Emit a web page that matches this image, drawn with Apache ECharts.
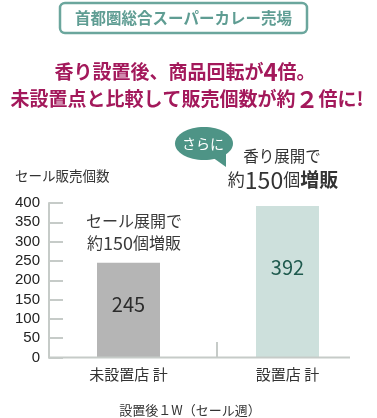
<!DOCTYPE html>
<html><head><meta charset="utf-8">
<script src="https://cdn.jsdelivr.net/npm/echarts@6/dist/echarts.min.js"></script>
<style>html,body{margin:0;padding:0;background:#fff}#c{width:377px;height:418px}</style>
</head><body><div id="c"></div>
<script>
const categories = ['未設置店 計', '設置店 計'];
const values = [245, 392];
const barColors = ['#b5b5b5', '#cde0dc'];
const labelColors = ['#2b2b2b', '#1f5a4e'];
const yMin = 0, yMax = 400, yStep = 50;

const JP = '"Noto Sans CJK JP", sans-serif';
const chart = echarts.init(document.getElementById('c'), null, {renderer: 'canvas'});
const axisGray = '#c6cbc8';

chart.setOption({
  animation: false,
  backgroundColor: '#fff',
  grid: {left: 49, right: 10, top: 203, bottom: 60.5},
  xAxis: {
    type: 'category', data: categories,
    axisLine: {show: false}, axisTick: {show: false},
    axisLabel: {color: '#333', fontSize: 15, fontFamily: JP, margin: 9}
  },
  yAxis: {
    type: 'value', min: yMin, max: yMax, interval: yStep,
    axisLine: {show: true, lineStyle: {color: axisGray, width: 2}},
    axisTick: {show: true, inside: true, length: 14, lineStyle: {color: axisGray, width: 2}},
    splitLine: {show: false},
    axisLabel: {color: '#222', fontSize: 15, fontFamily: '"Liberation Sans", Arial, sans-serif', margin: 9}
  },
  series: [{
    type: 'bar', barWidth: 63,
    data: values.map((v, i) => ({
      value: v,
      itemStyle: {color: barColors[i]},
      label: {show: true, position: 'insideTop', distance: i === 0 ? 32 : 51,
        color: labelColors[i], fontSize: 20, fontFamily: JP}
    }))
  }],
  graphic: [
    {type: 'line', shape: {x1: 48, y1: 357.5, x2: 350, y2: 357.5}, style: {stroke: axisGray, lineWidth: 2}, z: 10},
    {type: 'line', shape: {x1: 217, y1: 342, x2: 217, y2: 357}, style: {stroke: axisGray, lineWidth: 2}, z: 10},
    {type: 'rect', shape: {x: 60, y: 3, width: 247, height: 30, r: 5}, style: {fill: '#fff', stroke: '#6ba69d', lineWidth: 2.5}},
    {type: 'text', x: 183.5, y: 18.5, style: {text: '首都圏総合スーパーカレー売場', fill: '#5f9d93', font: 'bold 15.5px ' + JP, textAlign: 'center', textVerticalAlign: 'middle'}},
    {type: 'text', x: 185, y: 72, style: {
      text: '{a|香り設置後、商品回転が}{b|4}{a|倍。}',
      textAlign: 'center', textVerticalAlign: 'middle',
      rich: {a: {fill: '#a3195b', font: 'bold 19px ' + JP}, b: {fill: '#a3195b', font: 'bold 24px ' + JP}}
    }},
    {type: 'text', x: 187, y: 99, style: {
      text: '{a|未設置点と比較して販売個数が約}{b|２}{a|倍に!}',
      textAlign: 'center', textVerticalAlign: 'middle',
      rich: {a: {fill: '#a3195b', font: 'bold 19px ' + JP}, b: {fill: '#a3195b', font: 'bold 23px ' + JP}}
    }},
    {type: 'polygon', shape: {points: [[212, 157], [226, 167], [226, 151]]}, style: {fill: '#4e9486'}},
    {type: 'ellipse', shape: {cx: 204, cy: 143.5, rx: 29, ry: 16.5}, style: {fill: '#4e9486'}},
    {type: 'text', x: 203, y: 144, style: {text: 'さらに', fill: '#fff', font: '14px ' + JP, textAlign: 'center', textVerticalAlign: 'middle'}},
    {type: 'text', x: 282, y: 156, style: {text: '香り展開で', fill: '#333', font: '15.5px ' + JP, textAlign: 'center', textVerticalAlign: 'middle'}},
    {type: 'text', x: 283, y: 180, style: {
      text: '{a|約}{n|150}{a|個}{b|増販}', textAlign: 'center', textVerticalAlign: 'middle',
      rich: {a: {fill: '#333', font: '17px ' + JP}, n: {fill: '#333', font: '23px ' + JP}, b: {fill: '#333', font: 'bold 19px ' + JP}}
    }},
    {type: 'text', x: 134, y: 221, style: {text: 'セール展開で', fill: '#3a3a3a', font: '16px ' + JP, textAlign: 'center', textVerticalAlign: 'middle'}},
    {type: 'text', x: 134, y: 243, style: {
      text: '{a|約}{n|150}{a|個増販}', textAlign: 'center', textVerticalAlign: 'middle',
      rich: {a: {fill: '#3a3a3a', font: '16px ' + JP}, n: {fill: '#3a3a3a', font: '18px ' + JP}}
    }},
    {type: 'text', x: 15, y: 176, style: {text: 'セール販売個数', fill: '#333', font: '13.5px ' + JP, textAlign: 'left', textVerticalAlign: 'middle'}},
    {type: 'text', x: 190, y: 410, style: {text: '設置後１W（セール週）', fill: '#333', font: '13px ' + JP, textAlign: 'center', textVerticalAlign: 'middle'}}
  ]
});
</script></body></html>
